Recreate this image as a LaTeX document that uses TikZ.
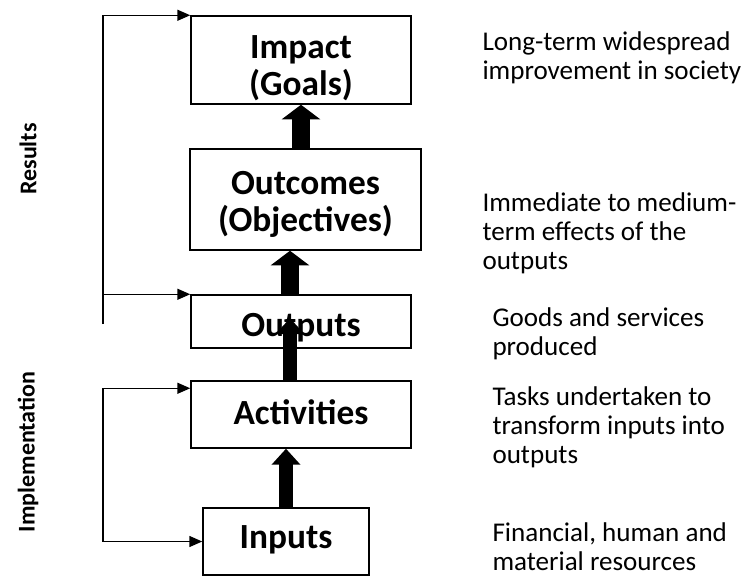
\documentclass[tikz,border=0pt]{standalone}
\usepackage{fontspec}
\setmainfont{Carlito}
\usetikzlibrary{arrows.meta}

\tikzset{every picture/.style={line width=0.75pt}}
\tikzset{
box/.style={draw, line width=1.1pt, inner sep=0pt},
title/.style={inner sep=0pt, align=center, font=\bfseries\fontsize{26.5}{27.75}\selectfont},
desc/.style={anchor=north west, inner sep=0pt, align=left, font=\fontsize{20.3}{21.75}\selectfont},
side/.style={rotate=90, inner sep=0pt, font=\bfseries\fontsize{18}{20}\selectfont},
bigarrow/.style={line width=13.5pt, -{Triangle[width=28.5pt,length=11pt]}},
slimarrow/.style={line width=10.5pt, -{Triangle[width=21pt,length=12pt]}},
link/.style={line width=1.1pt, >={Triangle[width=8.25pt,length=9.75pt]}}
}

\begin{document}
\begin{tikzpicture}[x=0.75pt,y=0.75pt,yscale=-1,xscale=1]
\useasboundingbox (0,0) rectangle (745,577);

%Shape: Rectangle [id:impact] 
\node [box, minimum width=165pt, minimum height=66pt] (impact) at (301,60) {};
%Shape: Rectangle [id:outcomes] 
\node [box, minimum width=173.25pt, minimum height=75.75pt] (outcomes) at (305.5,199.5) {};
%Shape: Rectangle [id:outputs] 
\node [box, minimum width=165pt, minimum height=39.75pt] (outputs) at (301,321.5) {};
%Shape: Rectangle [id:activities] 
\node [box, minimum width=165pt, minimum height=50.25pt] (activities) at (301,414.5) {};
%Shape: Rectangle [id:inputs] 
\node [box, minimum width=124.5pt, minimum height=50.25pt] (inputs) at (286,541.5) {};

% Text Node
\node [title] (impacttext) at (301,68) {Impact\\(Goals)};
% Text Node
\node [title] (outcomestext) at (305.5,204.5) {Outcomes\\(Objectives)};
% Text Node
\node [title] (outputstext) at (301,327.5) {Outputs};
% Text Node
\node [title] (activitiestext) at (301,412.5) {Activities};
% Text Node
\node [title] (inputstext) at (286,539.5) {Inputs};

%Up Arrow [id:chain] 
\draw [bigarrow] (impact.south |- outcomes.north) -- (impact.south);
\draw [bigarrow] ([xshift=-8.25pt]outputs.north) -- ([xshift=-8.25pt]outputs.north |- outcomes.south);
\draw [slimarrow] ([xshift=-8.25pt]activities.north) -- ([xshift=-8.25pt,yshift=-2.5pt]outputs.center);
\draw [slimarrow] (inputs.north) -- (inputs.north |- activities.south);

%Straight Lines [id:results] 
\coordinate (resend) at (103,324);
\draw [link, ->] (resend) |- (impact.north west);
\draw [link, ->] (resend |- outputs.north west) -- (outputs.north west);
%Straight Lines [id:implementation] 
\coordinate (actin) at ([yshift=6pt]activities.north west);
\draw [link, <->] (actin) -| (resend |- inputs.west) -- (inputs.west);

% Text Node
\node [side] (reslabel) at (28,159) {Results};
% Text Node
\node [side] (impllabel) at (28,452) {Implementation};

% Text Node
\node [desc] (impactdesc) at (482,31) {Long-term widespread\\improvement in society};
% Text Node
\node [desc] (outcomesdesc) at (482,192) {Immediate to medium-\\term effects of the\\outputs};
% Text Node
\node [desc] (outputsdesc) at (492,307) {Goods and services\\produced};
% Text Node
\node [desc] (activitiesdesc) at (492,386) {Tasks undertaken to\\transform inputs into\\outputs};
% Text Node
\node [desc] (inputsdesc) at (492,522) {Financial, human and\\material resources};

\end{tikzpicture}
\end{document}
